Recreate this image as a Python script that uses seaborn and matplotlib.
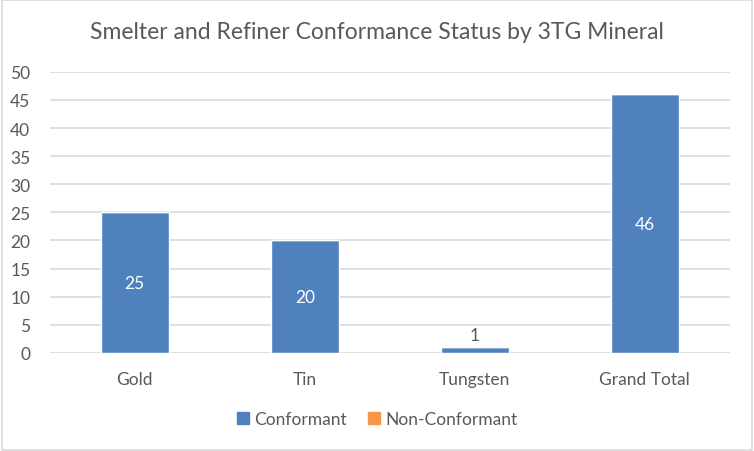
import pandas as pd
import matplotlib.pyplot as plt
import seaborn as sns
from matplotlib.patches import Rectangle, Patch

# --- Data ---
minerals = ['Gold', 'Tin', 'Tungsten', 'Grand Total']
conformant = [25, 20, 1, 46]
non_conformant = [0, 0, 0, 0]

BLUE = '#4f81bd'
ORANGE = '#f79646'
TEXT = '#595959'
GRID = '#d9d9d9'


def main():
    sns.set_theme(style='white')
    plt.rcParams['font.family'] = ['Lato', 'DejaVu Sans']

    df = pd.DataFrame({'Mineral': minerals,
                       'Conformant': conformant,
                       'Non-Conformant': non_conformant})

    fig = plt.figure(figsize=(7.54, 4.52), dpi=100)
    ax = fig.add_axes([0.066, 0.217, 0.902, 0.622])

    sns.barplot(data=df, x='Mineral', y='Conformant', color=BLUE,
                width=0.4, saturation=1, ax=ax, zorder=2)
    sns.barplot(data=df, x='Mineral', y='Non-Conformant', color=ORANGE,
                width=0.4, saturation=1, ax=ax, zorder=2,
                bottom=df['Conformant'])

    # value labels for the conformant series
    bars = ax.containers[0]
    for rect, val in zip(bars, conformant):
        cx = rect.get_x() + rect.get_width() / 2
        if val >= 5:
            ax.text(cx, val / 2, str(val), ha='center', va='center',
                    color='white', fontsize=12.5)
        else:
            ax.text(cx, val + 0.7, str(val), ha='center', va='bottom',
                    color=TEXT, fontsize=12.5)

    ax.set_ylim(0, 50)
    ax.set_xlim(-0.5, 3.5)
    ax.set_yticks(range(0, 51, 5))
    ax.yaxis.grid(True, color=GRID, linewidth=1.2, zorder=0)
    ax.set_axisbelow(True)
    for s in ax.spines.values():
        s.set_visible(False)
    ax.tick_params(axis='both', length=0, colors=TEXT, labelsize=12.5)
    ax.tick_params(axis='x', pad=13)
    ax.tick_params(axis='y', pad=14)
    ax.set_xlabel('')
    ax.set_ylabel('')

    fig.text(0.5, 0.928, 'Smelter and Refiner Conformance Status by 3TG Mineral',
             ha='center', va='center', fontsize=16.5, color=TEXT)

    handles = [Patch(color=BLUE, label='Conformant'),
               Patch(color=ORANGE, label='Non-Conformant')]
    fig.legend(handles=handles, loc='center', bbox_to_anchor=(0.5, 0.07),
               ncol=2, frameon=False, fontsize=12.5, labelcolor=TEXT,
               handlelength=0.7, handleheight=0.7, handletextpad=0.3,
               columnspacing=1.2)

    fig.patches.append(Rectangle((0.002, 0.003), 0.995, 0.994, transform=fig.transFigure,
                                 fill=False, edgecolor='#d9d9d9', linewidth=1.2))

    fig.savefig('out.png', dpi=100)


if __name__ == '__main__':
    main()
